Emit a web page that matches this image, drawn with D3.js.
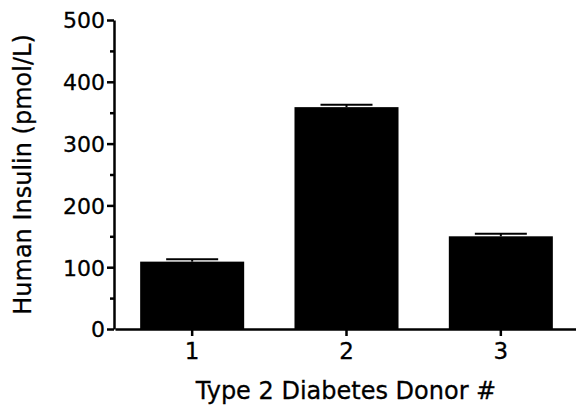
<!DOCTYPE html>
<html>
<head>
<meta charset="utf-8">
<script src="https://cdn.jsdelivr.net/npm/d3@7"></script>
<style>
  body { margin: 0; background: #fff; }
  text { font-family: "DejaVu Sans", sans-serif; fill: #000; stroke: #000; stroke-width: 0.3px; }
</style>
</head>
<body>
<div id="chart"></div>
<script>
const donors = ["1", "2", "3"];
const insulin = [109, 359, 150];
const insulinErr = [4, 4, 4];
const yTicks = [0, 100, 200, 300, 400, 500];
const yMinorTicks = [50, 150, 250, 350, 450];

const svgWidth = 576;
const svgHeight = 408;

const margin = { top: 20, right: 0, bottom: 79, left: 114 };
const chartBottom = svgHeight - margin.bottom;

const svg = d3.select("#chart")
    .append("svg")
    .attr("width", svgWidth)
    .attr("height", svgHeight);

const xScale = d3.scaleBand()
    .domain(donors)
    .range([margin.left + 1, svgWidth + 2])
    .paddingInner(0.326)
    .paddingOuter(0.163);

const yScale = d3.scaleLinear()
    .domain([0, 500])
    .range([chartBottom, margin.top]);

// bars
svg.selectAll("rect.bar")
    .data(donors)
    .enter()
    .append("rect")
    .attr("class", "bar")
    .attr("x", d => xScale(d))
    .attr("y", (d, i) => yScale(insulin[i]))
    .attr("width", xScale.bandwidth())
    .attr("height", (d, i) => chartBottom - yScale(insulin[i]))
    .attr("fill", "#000");

// error bars (upper only)
const errGroup = svg.append("g");
donors.forEach(function(d, i) {
    const cx = xScale(d) + xScale.bandwidth() / 2;
    const capHalf = xScale.bandwidth() / 4;
    errGroup.append("line")
        .attr("x1", cx).attr("x2", cx)
        .attr("y1", yScale(insulin[i])).attr("y2", yScale(insulin[i] + insulinErr[i]))
        .attr("stroke", "#000").attr("stroke-width", 2);
    errGroup.append("line")
        .attr("x1", cx - capHalf).attr("x2", cx + capHalf)
        .attr("y1", yScale(insulin[i] + insulinErr[i])).attr("y2", yScale(insulin[i] + insulinErr[i]))
        .attr("stroke", "#000").attr("stroke-width", 2);
});

// y axis
const yAxis = svg.append("g")
    .attr("transform", `translate(${margin.left}, 0)`)
    .call(d3.axisLeft(yScale).tickValues(yTicks).tickSize(7).tickSizeOuter(0).tickPadding(2));

const yMinor = svg.append("g")
    .attr("transform", `translate(${margin.left}, 0)`)
    .call(d3.axisLeft(yScale).tickValues(yMinorTicks).tickSize(4).tickFormat(""));
yMinor.select(".domain").remove();

// x axis
const xAxis = svg.append("g")
    .attr("transform", `translate(0, ${chartBottom})`)
    .call(d3.axisBottom(xScale).tickSize(7).tickSizeOuter(0).tickPadding(7));

svg.selectAll(".domain, .tick line")
    .attr("stroke", "#000")
    .attr("stroke-width", 2.5);

yAxis.selectAll("text").attr("font-size", "22px").attr("dy", "0.36em");
xAxis.selectAll("text").attr("font-size", "23px");

svg.append("text")
    .attr("transform", "rotate(-90)")
    .attr("x", -(margin.top + chartBottom) / 2)
    .attr("y", 31)
    .attr("font-size", "24px")
    .style("text-anchor", "middle")
    .text("Human Insulin (pmol/L)");

svg.append("text")
    .attr("x", 346)
    .attr("y", 399)
    .attr("font-size", "24px")
    .style("text-anchor", "middle")
    .text("Type 2 Diabetes Donor #");
</script>
</body>
</html>
